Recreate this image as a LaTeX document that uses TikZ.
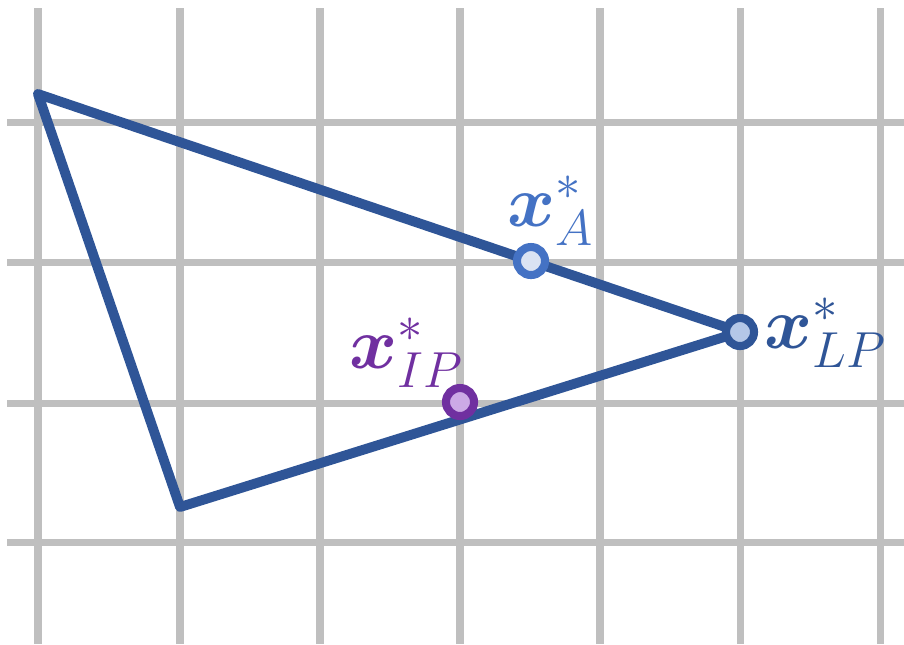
\documentclass[tikz,border=0pt]{standalone}
\usepackage{amsmath,bm}
\definecolor{gridgray}{RGB}{191,191,191}
\definecolor{edgeblue}{RGB}{47,85,151}
\definecolor{ablue}{RGB}{68,114,196}
\definecolor{afill}{RGB}{218,227,243}
\definecolor{lpfill}{RGB}{180,199,231}
\definecolor{ippurple}{RGB}{112,48,160}
\definecolor{ipfill}{RGB}{204,170,230}
\tikzset{
  gridline/.style={gridgray, line width=2pt},
  edge/.style={edgeblue, line width=2.8pt, line join=round},
  optpt/.style={circle, inner sep=0pt, minimum size=0.28cm, line width=2.3pt},
  optlabel/.style={inner sep=0pt, font=\fontsize{22}{26}\selectfont}
}
\begin{document}
\begin{tikzpicture}[x=0.01cm,y=-0.01cm]
  \useasboundingbox (0,0) rectangle (904,644);
  % grid
  \foreach \gx in {38,180,320,460,600,740,880}
    \draw[gridline] (\gx,8) -- (\gx,644);
  \foreach \gy in {122,262,403,542}
    \draw[gridline] (7,\gy) -- (904,\gy);
  % feasible region
  \coordinate (top) at (38,94);
  \coordinate (bot) at (180,507);
  \coordinate (lp) at (740,332);
  \draw[edge] (top) -- (lp) -- (bot) -- cycle;
  % optima
  \node[optpt, draw=ablue, fill=afill] (xa) at (531,261) {};
  \node[optpt, draw=edgeblue, fill=lpfill] (xlp) at (lp) {};
  \node[optpt, draw=ippurple, fill=ipfill] (xip) at (460,402) {};
  \node[optlabel, text=ablue] (la) at (551,211) {$\boldsymbol{x}^*_A$};
  \node[optlabel, text=edgeblue] (llp) at (826,333) {$\boldsymbol{x}^*_{LP}$};
  \node[optlabel, text=ippurple] (lip) at (407,353) {$\boldsymbol{x}^*_{IP}$};
\end{tikzpicture}
\end{document}
